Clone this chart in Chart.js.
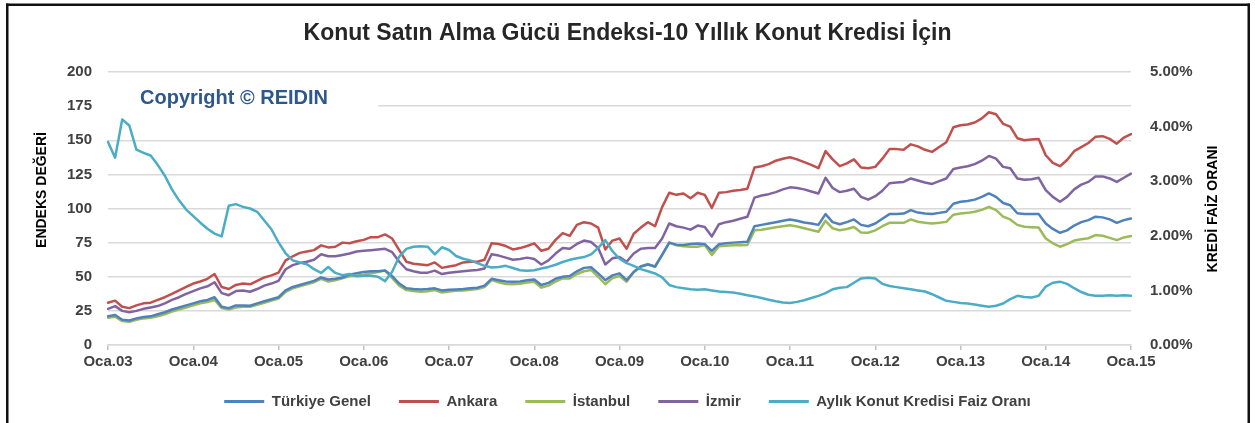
<!DOCTYPE html>
<html><head><meta charset="utf-8">
<script src="https://cdn.jsdelivr.net/npm/chart.js@4.4.1/dist/chart.umd.min.js"></script>
<style>html,body{margin:0;padding:0;background:#fff;}canvas{display:block;}</style>
</head><body>
<canvas id="c" width="1255" height="423"></canvas>
<script>
const MONTHS = ['Oca','Şub','Mar','Nis','May','Haz','Tem','Ağu','Eyl','Eki','Kas','Ara'];
const YEARS = ['03','04','05','06','07','08','09','10','11','12','13','14','15'];
const LABELS = [];
for (const y of YEARS) for (const m of MONTHS) LABELS.push(m + '.' + y);
LABELS.length = 145; // Oca.03 ... Oca.15

const TITLE = 'Konut Satın Alma Gücü Endeksi-10 Yıllık Konut Kredisi İçin';
const LEFT_TITLE = 'ENDEKS DEĞERİ';
const RIGHT_TITLE = 'KREDİ FAİZ ORANI';
const WATERMARK = 'Copyright © REIDIN';
const SERIES_NAMES = ['Türkiye Genel','Ankara','İstanbul','İzmir','Aylık Konut Kredisi Faiz Oranı'];
const LEFT_TICKS = [0,25,50,75,100,125,150,175,200];
const RIGHT_TICKS = ['0.00%','1.00%','2.00%','3.00%','4.00%','5.00%'];

const TURKIYE = [
21,22,18.5,18,19.5,20.5,21,22.5,24,26,27.5,29,
30.5,32,33,35,28,27,29,29,28.8,30.5,32,33.5,
35,40,42.5,44,45.5,47,49.5,48,48.5,49.5,51.5,52.5,
53.5,54,54,54.5,50.5,45,41.5,41,40.7,41,41.5,40,
40.5,40.7,41,41.5,42,43.5,48.5,47.5,46.5,46.3,46.5,47.5,
48,44,45.5,48.5,50,50.5,54,56.5,57,52.5,47.5,51,
52.5,47.5,53.5,57.5,59,57.5,66,75,73.5,73.2,74,74.4,
73.9,69,73.9,74.5,75,75.3,75.6,87,88,89,90,91,
92,91,89.8,89,88,95.9,90,88.5,90,92,88,87,
89,92.5,95.9,96,96.3,98.8,97,96.3,95.9,96.8,97.6,103.5,
104.9,105.5,106.5,108.5,111,108.5,104,102.4,96.5,95.9,95.9,95.9,
89,85,82.2,84,87.5,90,91.5,94,93.5,92,89.5,91.5,
92.7];
const ANKARA = [
31,32.5,28,27,29,30.5,31,33,35,37.5,40,42.5,
45,46.5,48.5,52,42.5,41,44,45,44.5,47,49.5,51,
53,62,65,67.5,68.5,69.5,73,71.5,72,75,74.5,76,
77,79,79,81,78,69.5,61,59.5,59,58.5,60.5,56.5,
57.5,58.5,60.5,61,61,62.5,74.5,74,72.5,70,71,72.5,
74.5,69,70.5,77,82,80,88,90,89,86,70,76.5,
78,70.5,81.5,86,90,87,101,111.5,110,111,107.5,111.5,
110,100.5,111.5,112,113,113.5,114.5,130,131,132.5,135,136.5,
137.5,136,134,132,129.5,142,136,131,133,136,130,129.5,
130.5,136.5,143.5,143.5,143,147,145.5,143,141.5,145,148.5,159.5,
161,161.5,163,166,170.5,169,162,160,151.5,150,150.5,151,
139,133.5,131,135.5,142,145,148,152.5,153,151,147.5,152,
154.5];
const ISTANBUL = [
20,20.7,17.5,17,18.5,19.5,20,21,22.5,24.5,26,27.5,
29,30.5,31.5,33,27,26,27.5,28,28,29.5,31,32.5,
34,39,41.5,43,44.5,46,48.5,46.5,47.5,48.8,50.3,50.8,
51.5,52.5,53.5,54.5,49,43.5,40.2,39.5,39,39.3,40.2,38.5,
39.2,39.7,40,40.5,41,42.5,47.5,46,44.6,44.5,44.8,45.8,
46.3,42,43.5,46.5,48.8,48.8,52,54,55,50,44.5,49,
50.5,46.3,53.5,57.5,59.3,57.3,66,75,73,72.4,72,72,
73.2,66,72.4,72.7,73,73,73.2,84,84.5,85.4,86.2,87,
87.8,86.8,85.5,84.2,83,91,85.5,84,85,86.5,82.5,82.2,
84,87,89.5,89.5,89.5,92,90.3,89.5,89,89.5,90.2,95.5,
96.3,96.8,97.6,99,101.2,98.8,94,92,88,86.6,86.3,86.1,
78,74.5,72,73.9,76.5,77.5,78.2,80.5,80,78.5,76.8,78.8,
79.8];
const IZMIR = [
26.5,28.5,25,24,25,26.5,27.5,28.5,30.5,33,35,37.5,
39.5,41.5,43,46,38,36.5,39.5,40,39,41,43.5,45,
47,55.5,58.5,60,61,62.5,66.5,65,65,66,67,68.5,
69,69.5,70,70.5,68,61,55.5,54,53,53,54.5,52,
53,53.5,54,54.5,55,56,66.5,65.5,64,62.5,63,64,
63,59,62,67,71,70.5,74,76.5,75.5,71,59,63.5,
64.5,61,67,70.5,71,71,78,89,87,86,84.5,87.5,
86.5,79.5,88.5,90,91,92.5,94,108,109.5,110.5,112,114,
115.5,115,114,112.5,111,122.5,115,112,113,114.5,108.5,106.5,
109,113,118.5,119,119.5,122,120.5,119,118,120,122,129,
130,131,132.5,135,138.5,136.5,130.5,129.5,122,121,121.5,122.5,
113.5,108.5,105,108.5,114,117.5,119.5,123.5,123.5,122,119.5,122.5,
125.5];
const FAIZ = [
3.72,3.43,4.13,4.02,3.58,3.52,3.47,3.30,3.10,2.85,2.65,2.48,
2.36,2.24,2.13,2.04,1.99,2.55,2.58,2.53,2.50,2.44,2.28,2.12,
1.88,1.68,1.55,1.51,1.48,1.39,1.32,1.43,1.32,1.28,1.30,1.26,
1.27,1.27,1.25,1.17,1.34,1.62,1.76,1.80,1.81,1.80,1.66,1.79,
1.74,1.63,1.58,1.55,1.50,1.45,1.42,1.43,1.45,1.41,1.37,1.36,
1.37,1.40,1.43,1.47,1.52,1.56,1.59,1.61,1.66,1.78,1.92,1.72,
1.58,1.50,1.45,1.39,1.35,1.31,1.24,1.10,1.06,1.04,1.02,1.01,
1.02,1.00,0.98,0.97,0.96,0.94,0.91,0.89,0.86,0.83,0.80,0.78,
0.77,0.79,0.82,0.86,0.90,0.95,1.02,1.05,1.06,1.14,1.22,1.23,
1.22,1.12,1.08,1.06,1.04,1.02,1.00,0.98,0.93,0.87,0.81,0.79,
0.77,0.76,0.74,0.72,0.70,0.72,0.76,0.84,0.90,0.88,0.87,0.90,
1.07,1.14,1.16,1.12,1.04,0.97,0.92,0.90,0.90,0.91,0.90,0.91,
0.90];

const COLORS = ['#4F81BD','#C0504D','#9BBB59','#8064A2','#4BACC6'];
const FONT = "'Liberation Sans', Arial, sans-serif";

const decor = {
  id: 'decor',
  beforeDraw(chart) {
    const c = chart.ctx;
    c.save();
    c.fillStyle = '#fff';
    c.fillRect(0, 0, chart.width, chart.height);
    c.fillStyle = '#111';
    c.fillRect(6, 3.5, 2.5, chart.height);
    c.fillRect(1247.5, 3.5, 2.5, chart.height);
    c.fillRect(6, 3.5, 1244, 2.5);
    c.restore();
  },
  beforeDatasetsDraw(chart) {
    const c = chart.ctx;
    c.save();
    c.fillStyle = '#fff';
    c.fillRect(chart.chartArea.left, 84, 270, 34);
    c.fillStyle = '#2e578c';
    c.font = 'bold 20px ' + FONT;
    c.textBaseline = 'alphabetic';
    c.textAlign = 'left';
    c.fillText(WATERMARK, 140, 104);
    c.restore();
  },
  afterDraw(chart) {
    const c = chart.ctx;
    c.save();
    c.fillStyle = '#000';
    c.font = 'bold 14px ' + FONT;
    c.textAlign = 'center';
    c.textBaseline = 'middle';
    c.translate(42, 190); c.rotate(-Math.PI / 2); c.fillText(LEFT_TITLE, 0, 0);
    c.setTransform(1, 0, 0, 1, 0, 0);
    c.translate(1213, 209); c.rotate(-Math.PI / 2); c.fillText(RIGHT_TITLE, 0, 0);
    c.restore();
  }
};

const tickFont = {family: FONT, size: 15, weight: 'bold'};

new Chart(document.getElementById('c'), {
  type: 'line',
  data: {
    labels: LABELS,
    datasets: [
      {label: SERIES_NAMES[0], data: TURKIYE, borderColor: COLORS[0], backgroundColor: COLORS[0], yAxisID: 'y', order: 1},
      {label: SERIES_NAMES[1], data: ANKARA, borderColor: COLORS[1], backgroundColor: COLORS[1], yAxisID: 'y', order: 1},
      {label: SERIES_NAMES[2], data: ISTANBUL, borderColor: COLORS[2], backgroundColor: COLORS[2], yAxisID: 'y', order: 1},
      {label: SERIES_NAMES[3], data: IZMIR, borderColor: COLORS[3], backgroundColor: COLORS[3], yAxisID: 'y', order: 1},
      {label: SERIES_NAMES[4], data: FAIZ, borderColor: COLORS[4], backgroundColor: COLORS[4], yAxisID: 'y2', order: 0}
    ]
  },
  options: {
    responsive: false,
    animation: false,
    devicePixelRatio: 1,
    layout: {padding: {left: 6, right: 6, top: 0, bottom: 4}},
    elements: {
      point: {radius: 0, hoverRadius: 0},
      line: {borderWidth: 2.5, tension: 0, borderJoinStyle: 'round', borderCapStyle: 'round'}
    },
    plugins: {
      tooltip: {enabled: false},
      title: {
        display: true, text: TITLE, color: '#262626',
        font: {family: FONT, size: 23, weight: 'bold'},
        padding: {top: 20, bottom: 24.4}
      },
      legend: {
        position: 'bottom',
        labels: {
          boxWidth: 40, boxHeight: 3, padding: 28, color: '#404040',
          font: {family: FONT, size: 15, weight: 'bold'},
          generateLabels: (chart) => chart.data.datasets.map((d, i) => ({
            text: d.label, fillStyle: d.borderColor, strokeStyle: d.borderColor,
            lineWidth: 0, hidden: false, datasetIndex: i, fontColor: '#404040'
          }))
        }
      }
    },
    scales: {
      x: {
        type: 'category', offset: false,
        grid: {drawOnChartArea: false, drawTicks: true, tickLength: 5, lineWidth: 1.5,
               color: (c) => (c.index % 12 === 0 ? '#bfbfbf' : 'rgba(0,0,0,0)')},
        border: {display: true, color: '#d9d9d9', width: 1.5},
        ticks: {autoSkip: false, maxRotation: 0, minRotation: 0, padding: 3, color: '#404040', font: tickFont,
                callback: (v, i) => (i % 12 === 0 ? LABELS[i] : '')},
        afterFit: (s) => { s.height = 21; }
      },
      y: {
        position: 'left', min: LEFT_TICKS[0], max: LEFT_TICKS[LEFT_TICKS.length - 1],
        ticks: {stepSize: 25, padding: 16, color: '#404040', font: tickFont},
        grid: {color: '#d9d9d9', lineWidth: 1.5, drawTicks: false},
        border: {display: false},
        afterFit: (s) => { s.width = 102; }
      },
      y2: {
        position: 'right', min: 0, max: 5,
        ticks: {stepSize: 1, padding: 19, color: '#404040', font: tickFont,
                callback: (v) => RIGHT_TICKS[Math.round(v)]},
        grid: {display: false, drawTicks: false},
        border: {display: false},
        afterFit: (s) => { s.width = 118; }
      }
    }
  },
  plugins: [decor]
});
</script>
</body></html>
